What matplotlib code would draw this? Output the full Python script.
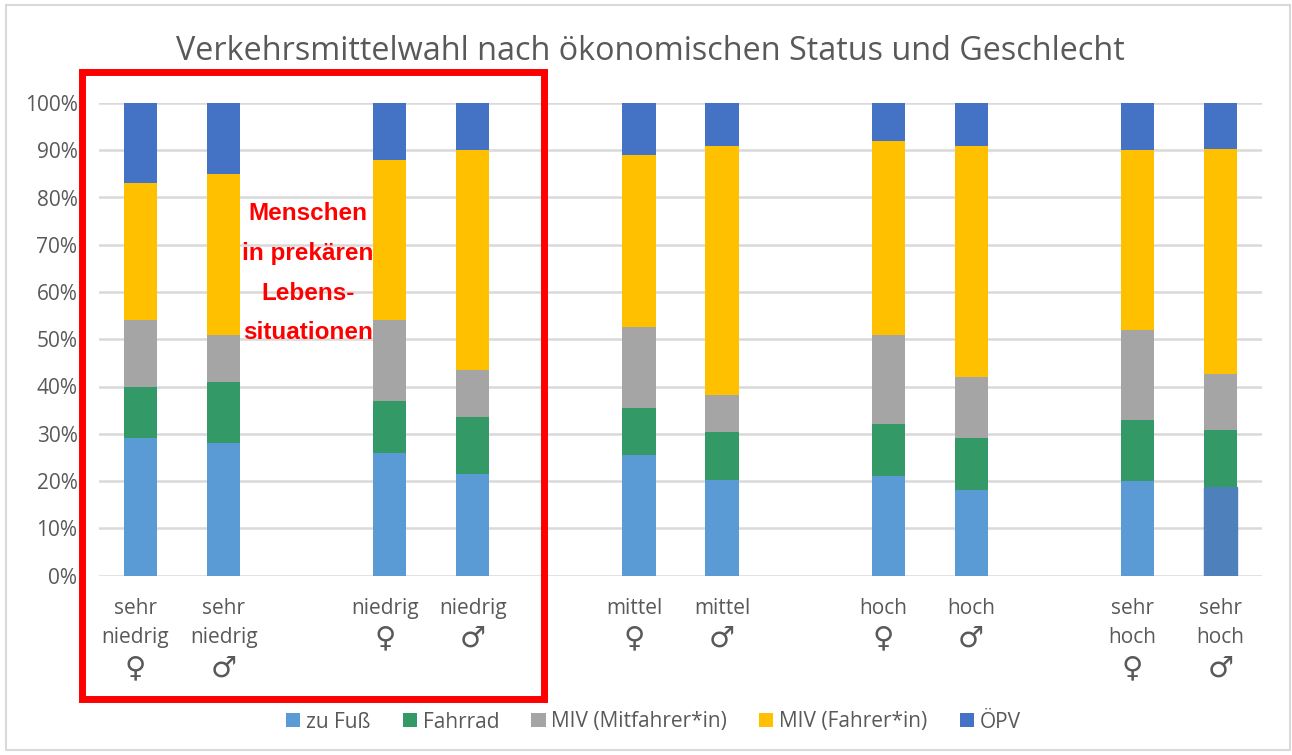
import matplotlib.pyplot as plt
from matplotlib.patches import Rectangle
from matplotlib.transforms import ScaledTranslation

plt.rcParams['font.family'] = ['Open Sans', 'DejaVu Sans']

# x slots, with gaps between the status groups
positions = [0, 1, 3, 4, 6, 7, 9, 10, 12, 13]
tick_labels = ["sehr\nniedrig", "sehr\nniedrig", "niedrig", "niedrig", "mittel",
               "mittel", "hoch", "hoch", "sehr\nhoch", "sehr\nhoch"]
gender_signs = ["♀", "♂"] * 5

zu_fuss = [29, 28, 26, 21.5, 25.5, 20.3, 21, 18, 20, 18.8]
fahrrad = [11, 13, 11, 12, 10, 10, 11, 11, 13, 12]
mitfahrer = [14, 10, 17, 10, 17, 8, 19, 13, 19, 11.8]
fahrer = [29, 34, 34, 46.5, 36.5, 52.7, 41, 49, 38, 47.6]
oepv = [17, 15, 12, 10, 11, 9, 8, 9, 10, 9.8]

series = [("zu Fuß", zu_fuss, "#5B9BD5"), ("Fahrrad", fahrrad, "#339966"),
          ("MIV (Mitfahrer*in)", mitfahrer, "#A5A5A5"), ("MIV (Fahrer*in)", fahrer, "#FFC000"),
          ("ÖPV", oepv, "#4472C4")]

GRAY = "#595959"

fig = plt.figure(figsize=(12.92, 7.55), dpi=100)
W, H = 1292, 755
ax = fig.add_axes([99 / W, 1 - 575.5 / H, 1163 / W, 472.5 / H])

bottom = [0] * len(positions)
for name, values, color in series:
    bars = ax.bar(positions, values, width=0.4, bottom=bottom, color=color, label=name, zorder=3)
    bottom = [b + v for b, v in zip(bottom, values)]
    if name == "zu Fuß":
        bars[-1].set_color("#4E80BC")  # last bar is darker in the original

ax.set_xlim(-0.5, 13.5)
ax.set_ylim(0, 100)
ax.set_yticks(range(0, 101, 10))
ax.set_yticklabels([f"{v}%" for v in range(0, 101, 10)])
ax.set_xticks(positions)
ax.set_xticklabels(tick_labels, linespacing=1.48, va="top")
ax.tick_params(axis="both", length=0, labelcolor=GRAY, labelsize=15)
ax.tick_params(axis="x", pad=16.5)
ax.tick_params(axis="y", pad=15.5)

# female labels sit a little left of their bars
for i, label in enumerate(ax.get_xticklabels()):
    dx = -5 if i % 2 == 0 else 0
    label.set_transform(label.get_transform() + ScaledTranslation(dx / 100, 0, fig.dpi_scale_trans))
    # sign goes one line below the label text
    lines = tick_labels[i].count("\n") + 1
    ax.annotate(gender_signs[i], xy=(positions[i], 0), xycoords=ax.get_xaxis_transform(),
                xytext=(dx, -(63 + 30 * (lines - 1))), textcoords="offset pixels",
                ha="center", va="center", fontsize=21, color=GRAY, family="DejaVu Sans",
                fontweight="bold", annotation_clip=False)

ax.grid(axis="y", color="#D9D9D9", linewidth=1.8, zorder=0)
ax.set_axisbelow(True)
for name, spine in ax.spines.items():
    spine.set_visible(False)

fig.text(650 / W, 1 - 52 / H, "Verkehrsmittelwahl nach ökonomischen Status und Geschlecht",
         ha="center", va="center", fontsize=23.3, color=GRAY)

# outer chart frame and red highlight box
fig.add_artist(Rectangle((6 / W, 1 - 750 / H), 1284 / W, 745 / H, transform=fig.transFigure,
                         fill=False, edgecolor="#D9D9D9", linewidth=1.5))
fig.add_artist(Rectangle((81.5 / W, 1 - 699 / H), 462 / W, 627.5 / H, transform=fig.transFigure,
                         fill=False, edgecolor="#FF0000", linewidth=5, joinstyle="miter"))

for y, line in zip([213, 253, 293, 333], ["Menschen", "in prekären", "Lebens-", "situationen"]):
    fig.text(308 / W, 1 - y / H, line, ha="center", va="center", color="#FF0000",
             fontsize=17.5, fontweight="bold", family="Liberation Sans", zorder=10)

fig.legend(loc="center", bbox_to_anchor=(653.5 / W, 1 - 722 / H), ncol=5, frameon=False,
           fontsize=15, labelcolor=GRAY, handlelength=0.68, handleheight=0.68,
           handletextpad=0.28, columnspacing=1.54)

plt.savefig("out.png", dpi=100)
